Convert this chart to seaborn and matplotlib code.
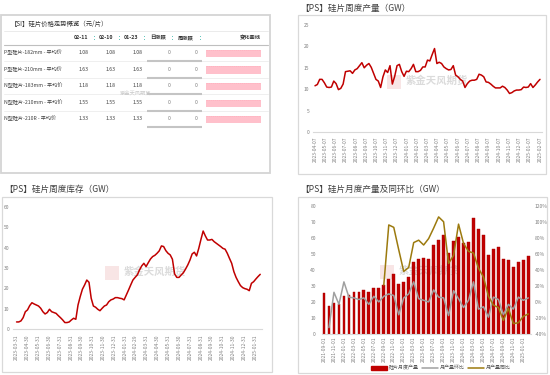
import numpy as np
import pandas as pd
import matplotlib
matplotlib.use('Agg')
import matplotlib.pyplot as plt
import seaborn as sns
from matplotlib.patches import Rectangle, Patch
from matplotlib.lines import Line2D

# ---- 硅片价格走势概览 ----
price_dates = ['02-11', '02-10', '01-23']
chg_names = ['日涨跌', '周涨跌']
products = ['P型硅片-182mm - 平均价', 'P型硅片-210mm - 平均价', 'N型硅片-183mm - 平均价',
            'N型硅片-210mm - 平均价', 'N型硅片-210R - 平均价']
price_0211 = [1.08, 1.63, 1.18, 1.55, 1.33]
price_0210 = [1.08, 1.63, 1.18, 1.55, 1.33]
price_0123 = [1.08, 1.63, 1.18, 1.55, 1.33]
day_chg = [0, 0, 0, 0, 0]
week_chg = [0, 0, 0, 0, 0]

# ---- 硅片周度产量 (GW) ----
weekly_output = [10.8, 11.1, 12.3, 12.3, 11.5, 10.5, 10.4, 10.5, 11.9, 11.3,
                 9.9, 10.2, 11.2, 14.1, 14.2, 14.3, 13.7, 14.5, 14.8, 15.5,
                 16.2, 15.0, 15.6, 16.0, 15.1, 13.7, 12.3, 11.9, 10.4, 12.9,
                 14.5, 13.9, 15.5, 11.2, 13.0, 15.5, 15.8, 14.1, 13.0, 14.2,
                 14.1, 14.8, 15.8, 14.1, 14.1, 14.4, 15.2, 15.2, 16.8, 16.6,
                 18.1, 19.5, 16.0, 16.3, 16.0, 15.2, 14.8, 14.5, 14.6, 15.5,
                 13.3, 12.9, 12.3, 11.9, 10.4, 11.3, 11.9, 12.1, 12.1, 12.3,
                 13.5, 13.3, 12.9, 11.7, 11.6, 11.2, 10.7, 10.3, 10.3, 10.3,
                 10.7, 10.4, 9.8, 9.0, 9.2, 9.6, 9.8, 9.8, 9.9, 10.5,
                 10.4, 10.5, 11.3, 10.4, 11.0, 11.7, 12.3]
output_start, output_end = '2023-04-07', '2025-02-07'
output_ticks = pd.date_range('2023-04-07', '2025-02-07', freq=pd.DateOffset(months=1))

# ---- 硅片周度库存 (GW) ----
weekly_stock = [3.6, 3.6, 4.1, 5.7, 8.6, 9.5, 11.6, 13.0, 12.4, 11.9,
                11.4, 10.3, 8.6, 7.5, 8.2, 9.8, 8.6, 8.2, 7.8, 6.7,
                5.7, 4.6, 3.3, 3.3, 3.6, 4.6, 5.4, 4.9, 11.9, 16.0,
                19.6, 21.7, 24.1, 23.0, 15.2, 11.4, 10.8, 9.8, 9.1, 10.3,
                11.4, 11.9, 13.5, 14.4, 14.8, 15.5, 15.5, 15.2, 15.0, 14.4,
                16.8, 19.2, 21.7, 24.1, 25.4, 26.6, 29.0, 31.0, 32.3, 30.7,
                32.6, 34.4, 35.6, 36.2, 37.2, 38.4, 40.8, 40.5, 38.5, 37.2,
                36.4, 34.3, 27.1, 25.4, 25.4, 26.6, 27.7, 29.5, 31.5, 33.9,
                36.9, 37.7, 35.9, 39.6, 44.0, 48.1, 45.7, 43.7, 43.7, 44.0,
                42.9, 42.1, 41.3, 40.5, 39.6, 39.2, 37.2, 34.7, 32.3, 28.2,
                25.4, 23.3, 21.4, 20.4, 19.9, 19.6, 18.9, 22.5, 23.3, 24.6,
                25.8, 26.9]
stock_start, stock_end = '2023-03-31', '2025-02-14'
stock_ticks = pd.date_range('2023-03-31', '2025-01-31', freq='ME')

# ---- 硅片月度产量及同环比 ----
months = pd.date_range('2021-09-01', '2025-02-01', freq='MS').strftime('%Y-%m-%d')
monthly_output = [25.7, 17.3, 19.4, 18.4, 23.4, 24.4, 25.9, 26.1, 27.6, 26.1,
                  28.8, 28.4, 30.3, 34.4, 37.2, 30.9, 32.4, 35.3, 45.1, 46.5,
                  47.1, 46.9, 55.5, 58.6, 61.7, 50.3, 58.2, 60.7, 56.5, 57.6,
                  72.5, 65.3, 61.7, 49.3, 52.8, 54.5, 46.8, 46.2, 42.0, 45.1,
                  46.2, 48.6]
mom = [np.nan, -32, 12, -3, 25, 6, 5, 3, 5, -3,
       7, 0, 7, 10, 8, -16, 5, 10, 25, 4,
       2, 0, 15, 6, 5, -17, 14, 4, -7, 2,
       25, -9, -6, -19, 6, 3, -16, -3, -9, 6,
       2, 5]
yoy = [np.nan] * 12 + [21, 96, 93, 65, 38, 43, 74, 77,
                       71, 79, 92, 106, 100, 48, 58, 97, 73, 63,
                       61, 42, 31, 7, -4, -7, -23, -8, -27, -26,
                       -18, -15]

red = '#C00000'
gray_line = '#A0A0A0'
olive = '#9C7A0E'
tick_col = '#7F7F7F'

sns.set_style('white')
plt.rcParams['font.family'] = ['Noto Sans CJK SC', 'DejaVu Sans']
plt.rcParams['axes.unicode_minus'] = False

W, H = 550, 375
fig = plt.figure(figsize=(5.5, 3.75), dpi=100)


def rect(x0, y0, x1, y1):
    return [x0 / W, 1 - y1 / H, (x1 - x0) / W, (y1 - y0) / H]


bg = fig.add_axes([0, 0, 1, 1])
bg.set_xlim(0, W)
bg.set_ylim(H, 0)
bg.axis('off')

# panel frames
bg.add_patch(Rectangle((1, 15), 269, 158, fill=False, ec='#D4D4D4', lw=1.3))
bg.add_patch(Rectangle((298, 15), 248, 159, fill=False, ec='#D9D9D9', lw=0.9))
bg.add_patch(Rectangle((2, 197), 270, 175, fill=False, ec='#D9D9D9', lw=0.9))
bg.add_patch(Rectangle((298, 197), 249, 176, fill=False, ec='#D9D9D9', lw=0.9))

# titles
bg.text(300, 8, '【PS】硅片周度产量（GW）', fontsize=6.2, color='#404040', va='center')
bg.text(4, 189, '【PS】硅片周度库存（GW）', fontsize=6.2, color='#404040', va='center')
bg.text(300, 189, '【PS】硅片月度产量及同环比（GW）', fontsize=6.2, color='#404040', va='center')

# watermarks
for cx, cy in [(432, 82), (150, 273), (425, 272)]:
    bg.add_patch(Rectangle((cx - 45, cy - 7), 14, 14, color=red, alpha=0.10, lw=0))
    bg.text(cx + 5, cy - 1, '紫金天风期货', fontsize=7.5, color='#B0B0B0', alpha=0.45,
            ha='center', va='center', fontweight='bold')
bg.text(135, 94, '紫金天风期货', fontsize=3.8, color='#C8C8C8', ha='center', va='center')

# ---- table ----
bg.text(11, 24, '【SI】硅片价格走势概览（元/片）', fontsize=4.6, color='#333333', va='center')
bg.plot([4, 268], [30.5, 30.5], color='#E8E8E8', lw=0.6)
hdr_x = [88, 113, 138]
icon_x = [94, 119, 144]
for lab, x in zip(price_dates, hdr_x):
    bg.text(x, 37.5, lab, ha='right', va='center', fontsize=3.8, fontweight='bold', color='#333333')
for lab, x in zip(chg_names, [166, 194]):
    bg.text(x, 37.5, lab, ha='right', va='center', fontsize=3.8, fontweight='bold', color='#333333')
bg.text(261, 37.5, '变化曲线', ha='right', va='center', fontsize=3.8, fontweight='bold', color='#333333')
for ix in icon_x + [172, 200]:
    bg.scatter([ix], [36.3], marker='^', s=0.5, color='#2FB3A6', lw=0)
    bg.scatter([ix], [38.7], marker='v', s=0.5, color='#2FB3A6', lw=0)
bg.plot([4, 268], [44.5, 44.5], color='#BFBFBF', lw=0.8)

row_h = 16.5
for i, name in enumerate(products):
    cy = 44.5 + row_h * (i + 0.5)
    bot = 44.5 + row_h * (i + 1)
    bg.text(4, cy, name, va='center', fontsize=3.7, color='#404040')
    for v, x in zip([price_0211[i], price_0210[i], price_0123[i]], [89, 116, 143]):
        bg.text(x, cy, f'{v:.2f}', ha='right', va='center', fontsize=3.7, color='#404040')
    for v, x in zip([day_chg[i], week_chg[i]], [171, 198]):
        bg.text(x, cy, f'{v}', ha='right', va='center', fontsize=3.7, color='#808080')
    if i < len(products) - 1:
        bg.plot([4, 268], [bot, bot], color='#ECECEC', lw=0.6)
    bg.plot([147, 202], [bot, bot], color='#C4C4C4', lw=1.5, solid_capstyle='butt')
    # sparkline
    sax = fig.add_axes(rect(206, bot - 11, 261, bot - 4))
    vals = [price_0123[i], price_0210[i], price_0211[i]]
    sax.fill_between(range(3), vals, color='#FFC0CB', lw=0)
    sax.plot(range(3), vals, color='#FFB0BE', lw=0.5, ls=(0, (2, 1)))
    sax.set_xlim(0, 2)
    sax.set_ylim(0, max(vals))
    sax.axis('off')


def style(ax, xlen=2):
    ax.set_xlabel('')
    ax.set_ylabel('')
    for s in ['top', 'right', 'left']:
        ax.spines[s].set_visible(False)
    ax.spines['bottom'].set_color('#D9D9D9')
    ax.spines['bottom'].set_linewidth(0.8)
    ax.tick_params(axis='x', labelsize=3.5, labelcolor=tick_col, color='#D9D9D9',
                   length=xlen, width=0.5, pad=1.5)
    ax.tick_params(axis='y', labelsize=3.6, labelcolor=tick_col, length=0, pad=2.5)
    ax.patch.set_alpha(0)
    ax.grid(False)


# ---- weekly output ----
ax2 = fig.add_axes(rect(313, 25, 542, 132))
df_out = pd.DataFrame({'date': pd.date_range(output_start, output_end, periods=len(weekly_output)),
                       'gw': weekly_output})
sns.lineplot(data=df_out, x='date', y='gw', ax=ax2, color=red, lw=1.1, estimator=None)
ax2.set_xlim(pd.Timestamp('2023-04-01'), pd.Timestamp('2025-02-13'))
ax2.set_ylim(0, 25)
ax2.set_yticks(range(0, 26, 5))
ax2.set_xticks(output_ticks)
ax2.set_xticklabels(output_ticks.strftime('%Y-%m-%d'), rotation=90)
style(ax2)

# ---- weekly stock ----
ax3 = fig.add_axes(rect(13, 206.7, 262, 329.3))
df_stock = pd.DataFrame({'date': pd.date_range(stock_start, stock_end, periods=len(weekly_stock)),
                         'gw': weekly_stock})
sns.lineplot(data=df_stock, x='date', y='gw', ax=ax3, color=red, lw=1.1, estimator=None)
ax3.set_xlim(pd.Timestamp('2023-03-21'), pd.Timestamp('2025-02-19'))
ax3.set_ylim(0, 60)
ax3.set_yticks(range(0, 61, 10))
ax3.set_xticks(stock_ticks)
ax3.set_xticklabels(stock_ticks.strftime('%Y-%m-%d'), rotation=90)
style(ax3)

# ---- monthly output + mom / yoy ----
ax4 = fig.add_axes(rect(321.5, 205.7, 530.8, 334))
df_m = pd.DataFrame({'month': months, 'gw': monthly_output, 'mom': mom, 'yoy': yoy,
                     'pos': np.arange(len(months))})
sns.barplot(data=df_m, x='month', y='gw', ax=ax4, color=red, width=0.55, saturation=1,
            edgecolor='#A80000', linewidth=0.3)
ax4.set_xlim(-0.5, len(months) - 0.5)
ax4.set_ylim(0, 80)
ax4.set_yticks(range(0, 81, 10))
ax4.set_xticks(df_m['pos'][::2])
ax4.set_xticklabels(df_m['month'][::2], rotation=90)
style(ax4, xlen=0)
ax4.tick_params(axis='y', pad=4)

ax4r = ax4.twinx()
sns.lineplot(data=df_m, x='pos', y='mom', ax=ax4r, color=gray_line, lw=1.1, estimator=None)
sns.lineplot(data=df_m, x='pos', y='yoy', ax=ax4r, color=olive, lw=1.1, estimator=None)
ax4r.set_ylim(-40, 120)
ax4r.set_yticks(range(-40, 121, 20))
ax4r.set_yticklabels([f'{v}%' for v in range(-40, 121, 20)])
ax4r.set_xlim(-0.5, len(months) - 0.5)
ax4r.set_ylabel('')
for s in ax4r.spines.values():
    s.set_visible(False)
ax4r.tick_params(axis='y', labelsize=3.6, labelcolor=tick_col, length=0, pad=3)

handles = [Patch(facecolor=red, edgecolor=red),
           Line2D([0], [0], color=gray_line, lw=1.1),
           Line2D([0], [0], color=olive, lw=1.1)]
ax4r.legend(handles, ['硅片月度产量', '月产量环比', '月产量同比'], loc='center',
            bbox_to_anchor=(441 / W, 1 - 368 / H), bbox_transform=fig.transFigure,
            ncol=3, frameon=False, fontsize=3.6, handlelength=3.3, handleheight=0.8,
            columnspacing=0.6, handletextpad=0.3, labelcolor='#595959')

fig.savefig('out.png', dpi=100, facecolor='white')
